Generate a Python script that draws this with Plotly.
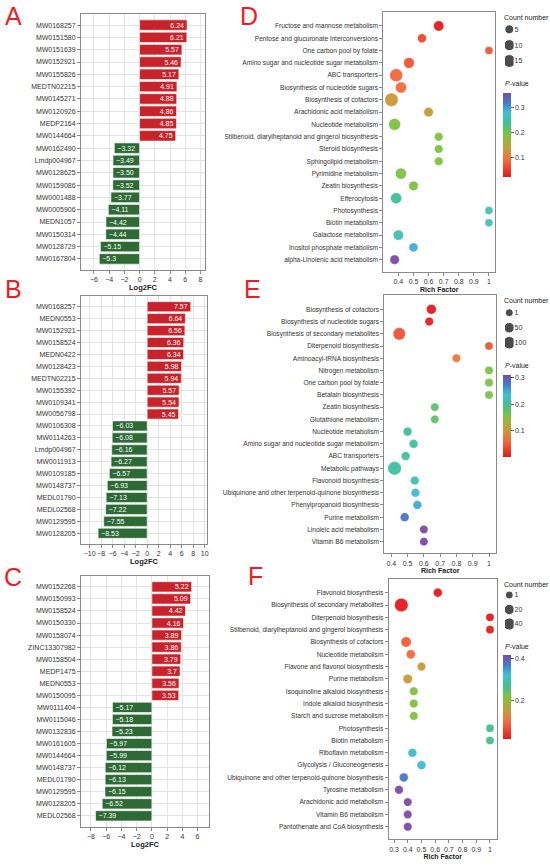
import plotly.graph_objects as go

W, H = 550, 866
FONT = "Liberation Sans, Arial, sans-serif"

# ---- A-C : top up / down metabolites ----
a_ids = ["MW0168257", "MW0151580", "MW0151639", "MW0152921", "MW0155826", "MEDTN02215",
         "MW0145271", "MW0120926", "MEDP2164", "MW0144664", "MW0162490", "Lmdp004967",
         "MW0128625", "MW0159086", "MW0001488", "MW0005906", "MEDN1057", "MW0150314",
         "MW0128729", "MW0167804"]
a_fc = ["6.24", "6.21", "5.57", "5.46", "5.17", "4.91", "4.88", "4.86", "4.85", "4.75",
        "-3.32", "-3.49", "-3.50", "-3.52", "-3.77", "-4.11", "-4.42", "-4.44", "-5.15", "-5.3"]

b_ids = ["MW0168257", "MEDN0553", "MW0152921", "MW0158524", "MEDN0422", "MW0128423",
         "MEDTN02215", "MW0155392", "MW0109341", "MW0056798", "MW0106308", "MW0114263",
         "Lmdp004967", "MW0011913", "MW0109185", "MW0148737", "MEDL01790", "MEDL02568",
         "MW0129595", "MW0128205"]
b_fc = ["7.57", "6.64", "6.56", "6.36", "6.34", "5.98", "5.94", "5.57", "5.54", "5.45",
        "-6.03", "-6.08", "-6.16", "-6.27", "-6.57", "-6.93", "-7.13", "-7.22", "-7.55", "-8.53"]

c_ids = ["MW0152268", "MW0150993", "MW0158524", "MW0150330", "MW0158074", "ZINC13307982",
         "MW0158504", "MEDP1475", "MEDN0553", "MW0150095", "MW0111404", "MW0115046",
         "MW0132836", "MW0161605", "MW0144664", "MW0148737", "MEDL01790", "MW0129595",
         "MW0128205", "MEDL02568"]
c_fc = ["5.22", "5.09", "4.42", "4.16", "3.89", "3.86", "3.79", "3.7", "3.56", "3.53",
        "-5.17", "-5.18", "-5.23", "-5.97", "-5.99", "-6.12", "-6.13", "-6.15", "-6.52", "-7.39"]

# ---- D-F : KEGG enrichment ----
d_path = ["Fructose and mannose metabolism", "Pentose and glucuronate interconversions",
          "One carbon pool by folate", "Amino sugar and nucleotide sugar metabolism",
          "ABC transporters", "Biosynthesis of nucleotide sugars", "Biosynthesis of cofactors",
          "Arachidonic acid metabolism", "Nucleotide metabolism",
          "Stilbenoid, diarylheptanoid and gingerol biosynthesis", "Steroid biosynthesis",
          "Sphingolipid metabolism", "Pyrimidine metabolism", "Zeatin biosynthesis",
          "Efferocytosis", "Photosynthesis", "Biotin metabolism", "Galactose metabolism",
          "Inositol phosphate metabolism", "alpha-Linolenic acid metabolism"]
d_rich = [0.667, 0.556, 1.0, 0.47, 0.385, 0.417, 0.354, 0.6, 0.375, 0.667,
          0.667, 0.667, 0.417, 0.5, 0.385, 1.0, 1.0, 0.4, 0.5, 0.375]
d_count = [8, 5, 3, 9, 15, 10, 17, 6, 12, 4, 4, 4, 10, 6, 10, 3, 3, 8, 5, 6]
d_pval = [0.02, 0.06, 0.07, 0.07, 0.085, 0.09, 0.13, 0.13, 0.19, 0.19,
          0.19, 0.19, 0.19, 0.19, 0.24, 0.26, 0.26, 0.26, 0.29, 0.36]
d_keys = [5, 10, 15]

e_path = ["Biosynthesis of cofactors", "Biosynthesis of nucleotide sugars",
          "Biosynthesis of secondary metabolites", "Diterpenoid biosynthesis",
          "Aminoacyl-tRNA biosynthesis", "Nitrogen metabolism", "One carbon pool by folate",
          "Betalain biosynthesis", "Zeatin biosynthesis", "Glutathione metabolism",
          "Nucleotide metabolism", "Amino sugar and nucleotide sugar metabolism",
          "ABC transporters", "Metabolic pathways", "Flavonoid biosynthesis",
          "Ubiquinone and other terpenoid-quinone biosynthesis", "Phenylpropanoid biosynthesis",
          "Purine metabolism", "Linoleic acid metabolism", "Vitamin B6 metabolism"]
e_rich = [0.646, 0.633, 0.449, 1.0, 0.8, 1.0, 1.0, 1.0, 0.667, 0.667,
          0.5, 0.537, 0.488, 0.42, 0.544, 0.548, 0.56, 0.482, 0.6, 0.6]
e_count = [35, 12, 95, 3, 8, 4, 4, 4, 6, 6, 15, 15, 15, 125, 12, 14, 14, 15, 6, 6]
e_pval = [0.005, 0.01, 0.05, 0.05, 0.08, 0.16, 0.16, 0.16, 0.18, 0.18,
          0.205, 0.21, 0.21, 0.21, 0.22, 0.24, 0.25, 0.28, 0.31, 0.31]
e_keys = [1, 50, 100]

f_path = ["Flavonoid biosynthesis", "Biosynthesis of secondary metabolites",
          "Diterpenoid biosynthesis", "Stilbenoid, diarylheptanoid and gingerol biosynthesis",
          "Biosynthesis of cofactors", "Nucleotide metabolism",
          "Flavone and flavonol biosynthesis", "Purine metabolism",
          "Isoquinoline alkaloid biosynthesis", "Indole alkaloid biosynthesis",
          "Starch and sucrose metabolism", "Photosynthesis", "Biotin metabolism",
          "Riboflavin metabolism", "Glycolysis / Gluconeogenesis",
          "Ubiquinone and other terpenoid-quinone biosynthesis", "Tyrosine metabolism",
          "Arachidonic acid metabolism", "Vitamin B6 metabolism",
          "Pantothenate and CoA biosynthesis"]
f_rich = [0.619, 0.353, 1.0, 1.0, 0.388, 0.422, 0.5, 0.4, 0.444, 0.444,
          0.444, 1.0, 1.0, 0.434, 0.5, 0.371, 0.336, 0.4, 0.4, 0.4]
f_count = [8, 55, 2, 2, 20, 10, 5, 12, 5, 5, 5, 2, 2, 8, 8, 8, 6, 4, 4, 4]
f_pval = [0.02, 0.02, 0.02, 0.025, 0.085, 0.1, 0.15, 0.15, 0.21, 0.21,
          0.21, 0.27, 0.27, 0.325, 0.325, 0.375, 0.415, 0.415, 0.415, 0.415]
f_keys = [1, 20, 40]

RED, GREEN = "#c8222b", "#2d6a35"
PSCALE = [[0.0, "#e41a1c"], [0.2, "#f26a3e"], [0.33, "#c99a3a"], [0.5, "#7dc242"],
          [0.65, "#3fbf95"], [0.76, "#3fc3d1"], [0.88, "#3f7fd0"], [1.0, "#7b4aa8"]]


def dom(x0, x1, y0, y1):
    # pixel box -> paper domains
    return [x0 / W, x1 / W], [1 - y1 / H, 1 - y0 / H]


def size_mapper(counts, keys, dmin=8.0, dmax=13.5):
    lo = min(min(counts), min(keys))
    hi = max(max(counts), max(keys))
    return lambda c: (dmin ** 2 + (dmax ** 2 - dmin ** 2) * (c - lo) / (hi - lo)) ** 0.5


fig = go.Figure()

tick_font = dict(family=FONT, size=7, color="#333333")
path_font = dict(family=FONT, size=6.6, color="#333333")
frame = dict(showline=True, linecolor="#8a8a8a", linewidth=1, mirror=True,
             ticks="outside", ticklen=3, tickcolor="#8a8a8a", tickfont=tick_font,
             zeroline=False, automargin=False, tickangle=0)

bar_panels = [
    ("", a_ids, a_fc, (81, 205, 14, 270), [-7.7, 8.6]),
    ("2", b_ids, b_fc, (81, 207, 296, 544), [-11.5, 10.4]),
    ("3", c_ids, c_fc, (81, 209, 576, 826.7), [-9.3, 7.5]),
]
for n, ids, fc, box, xr in bar_panels:
    vals = [float(v) for v in fc]
    fig.add_trace(go.Bar(
        x=vals, y=ids, orientation="h", xaxis="x" + n, yaxis="y" + n,
        marker=dict(color=[RED if v > 0 else GREEN for v in vals],
                    line=dict(color="white", width=0.6)),
        text=[v.replace("-", "\u2212") for v in fc], textposition="inside",
        insidetextanchor="end", textangle=0, constraintext="none",
        textfont=dict(family=FONT, size=7, color="white"), showlegend=False))
    xd, yd = dom(*box)
    fig.update_layout(**{
        "xaxis" + n: dict(frame, domain=xd, anchor="y" + n, range=xr, dtick=2,
                          showgrid=True, gridcolor="#e3e3e3", gridwidth=0.7,
                          title=dict(text="<b>Log2FC</b>", standoff=2,
                                     font=dict(family=FONT, size=7.5, color="#222"))),
        "yaxis" + n: dict(frame, domain=yd, anchor="x" + n, type="category",
                          range=[19.9, -0.9], showgrid=True, gridcolor="#e3e3e3",
                          gridwidth=0.7),
    })

bubble_panels = [
    ("4", d_path, d_rich, d_count, d_pval, d_keys, (383.3, 495.3, 11.7, 272),
     [0.30, 1.042], [20.0, -1.16], 0.1, "coloraxis", (93, 176.7), "7",
     (21.4, 68.9), 17.7, 84, [0.4, 0.5, 0.6, 0.7, 0.8, 0.9, 1]),
    ("5", e_path, e_rich, e_count, e_pval, e_keys, (384.3, 496, 295, 553.3),
     [0.357, 1.043], [19.95, -1.17], 0.1, "coloraxis2", (374.3, 456.7), "8",
     (305.2, 350.2), 300.7, 365, [0.4, 0.5, 0.6, 0.7, 0.8, 0.9, 1]),
    ("6", f_path, f_rich, f_count, f_pval, f_keys, (388.7, 496.7, 579.3, 839.3),
     [0.261, 1.049], [20.02, -1.09], 0.2, "coloraxis3", (655, 739.3), "9",
     (587.75, 631.25), 584.3, 646, [0.3, 0.4, 0.5, 0.6, 0.7, 0.8, 0.9, 1]),
]
annos = []
for (n, path, rich, count, pval, keys, box, xr, yr, cdt, cax, cbox, ln, lbox,
     ty_count, ty_p, xticks) in bubble_panels:
    sz = size_mapper(count, keys)
    fig.add_trace(go.Scatter(
        x=rich, y=path, mode="markers", xaxis="x" + n, yaxis="y" + n,
        marker=dict(size=[sz(c) for c in count], color=pval, coloraxis=cax, opacity=0.95,
                    line=dict(color="rgba(255,255,255,0.6)", width=0.6)),
        showlegend=False))
    xd, yd = dom(*box)
    fig.update_layout(**{
        "xaxis" + n: dict(frame, domain=xd, anchor="y" + n, range=xr, tickvals=xticks,
                          showgrid=False,
                          title=dict(text="<b>Rich Factor</b>", standoff=2,
                                     font=dict(family=FONT, size=7, color="#222"))),
        "yaxis" + n: dict(frame, domain=yd, anchor="x" + n, type="category",
                          range=yr, showgrid=False, tickfont=path_font),
        cax: dict(colorscale=PSCALE, colorbar=dict(
            x=502.7 / W, xanchor="left", xpad=0, ypad=0, thickness=8,
            lenmode="pixels", len=cbox[1] - cbox[0], y=1 - (cbox[0] + cbox[1]) / 2 / H,
            yanchor="middle", outlinewidth=0, dtick=cdt, ticks="outside", ticklen=3,
            tickcolor="#666", tickfont=tick_font)),
    })
    # size key drawn on its own small category axis
    fig.add_trace(go.Scatter(
        x=[0] * len(keys), y=[str(k) for k in keys], mode="markers",
        xaxis="x" + ln, yaxis="y" + ln,
        marker=dict(size=[sz(k) for k in keys], color="black"), showlegend=False,
        hoverinfo="skip"))
    kx, ky = dom(505, 513.6, *lbox)
    fig.update_layout(**{
        "xaxis" + ln: dict(domain=kx, anchor="y" + ln, range=[-1, 1], visible=False),
        "yaxis" + ln: dict(domain=ky, anchor="x" + ln, type="category", side="right",
                           range=[len(keys) - 0.5, -0.5], showgrid=False, zeroline=False,
                           showline=False, ticks="", tickfont=tick_font, automargin=False),
    })
    annos.append(dict(text="Count number", x=502 / W, y=1 - ty_count / H))
    annos.append(dict(text="<i>P</i>-value", x=502.7 / W, y=1 - ty_p / H))

annotations = [dict(a, xref="paper", yref="paper", xanchor="left", yanchor="middle",
                    showarrow=False, font=dict(family=FONT, size=7, color="#222"))
               for a in annos]
for letter, px, py in [("A", 13, 16), ("B", 13, 289), ("C", 13, 577),
                       ("D", 249, 16), ("E", 252, 289), ("F", 255, 576)]:
    annotations.append(dict(text=letter, x=px / W, y=1 - py / H, xref="paper", yref="paper",
                            xanchor="center", yanchor="middle", showarrow=False,
                            font=dict(family=FONT, size=25, color="#ee1c25")))

fig.update_layout(width=W, height=H, margin=dict(l=0, r=0, t=0, b=0),
                  paper_bgcolor="white", plot_bgcolor="white", bargap=0.15,
                  font=dict(family=FONT, size=7, color="#333"),
                  annotations=annotations, showlegend=False)

# drop the default page margin so the figure fills the window
fig.write_html("out.html", config={"displayModeBar": False},
               post_script="document.body.style.margin='0';")
